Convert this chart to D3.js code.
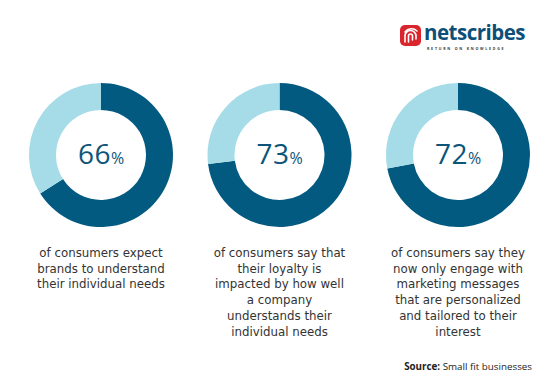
<!DOCTYPE html>
<html>
<head>
<meta charset="utf-8">
<script src="https://cdn.jsdelivr.net/npm/d3@7"></script>
<style>
  body { margin: 0; background: #fff; }
  text { font-family: "Open Sans", "Noto Sans", sans-serif; }
</style>
</head>
<body>
<div id="chart"></div>
<script>
const percents = [66, 73, 72];
const captions = [
  ["of consumers expect", "brands to understand", "their individual needs"],
  ["of consumers say that", "their loyalty is", "impacted by how well", "a company", "understands their", "individual needs"],
  ["of consumers say they", "now only engage with", "marketing messages", "that are personalized", "and tailored to their", "interest"]
];
const sourceLabel = "Source:";
const sourceText = " Small fit businesses";

const width = 560, height = 389;
const dark = "#035a80", light = "#a5dce8", numColor = "#0d5578", textColor = "#333333";

const svg = d3.select("#chart").append("svg")
    .attr("width", width)
    .attr("height", height);

const x = d3.scalePoint()
    .domain(d3.range(percents.length))
    .range([101, 458]);
const cy = 155;

const pie = d3.pie().sort(null).value(d => d);
const arc = d3.arc().innerRadius(45).outerRadius(72);

percents.forEach((p, i) => {
    const g = svg.append("g")
        .attr("transform", `translate(${x(i)},${cy})`);

    g.selectAll("path")
        .data(pie([p, 100 - p]))
        .enter()
        .append("path")
            .attr("d", arc)
            .attr("fill", (d, j) => j === 0 ? dark : light);

    const t = g.append("text")
        .attr("text-anchor", "middle")
        .attr("y", 9)
        .attr("fill", numColor);
    t.append("tspan").attr("font-size", 28).attr("letter-spacing", 0.5).text(p);
    t.append("tspan").attr("font-size", 16).text("%");

    const cap = svg.append("text")
        .attr("text-anchor", "middle")
        .attr("fill", textColor)
        .style("font-family", "'DejaVu Sans', sans-serif")
        .attr("font-size", 11.8);
    captions[i].forEach((line, k) => {
        cap.append("tspan")
            .attr("x", x(i))
            .attr("y", 257 + k * 15.7)
            .text(line);
    });
});

// source
const src = svg.append("text")
    .attr("x", 532)
    .attr("y", 370)
    .attr("text-anchor", "end")
    .attr("font-size", 9.8)
    .attr("fill", "#222");
src.append("tspan").attr("font-weight", "bold").text(sourceLabel);
src.append("tspan").text(sourceText);

// logo
const logo = svg.append("g").attr("transform", "translate(400,25)");
logo.append("rect")
    .attr("width", 21).attr("height", 21).attr("rx", 5)
    .attr("fill", "#d9252b");
logo.append("path")
    .attr("d", "M5,17 L5,11 A5.5,5.5 0 0 1 16,11 L16,14 M8.5,17 L8.5,11 A2,2 0 0 1 12.5,11 L12.5,15 M5,7 A8,8 0 0 1 17,6")
    .attr("fill", "none")
    .attr("stroke", "#fff")
    .attr("stroke-width", 1.6)
    .attr("stroke-linecap", "round");
logo.append("text")
    .attr("x", 24).attr("y", 14.5)
    .attr("font-size", 20.5)
    .attr("font-weight", "bold")
    .attr("letter-spacing", -0.5)
    .attr("fill", "#0d4f78")
    .text("netscribes");
logo.append("text")
    .attr("x", 27).attr("y", 24.5)
    .attr("font-size", 3.6)
    .attr("font-weight", "bold")
    .attr("letter-spacing", 1.75)
    .attr("fill", "#333")
    .text("RETURN ON KNOWLEDGE");
</script>
</body>
</html>
